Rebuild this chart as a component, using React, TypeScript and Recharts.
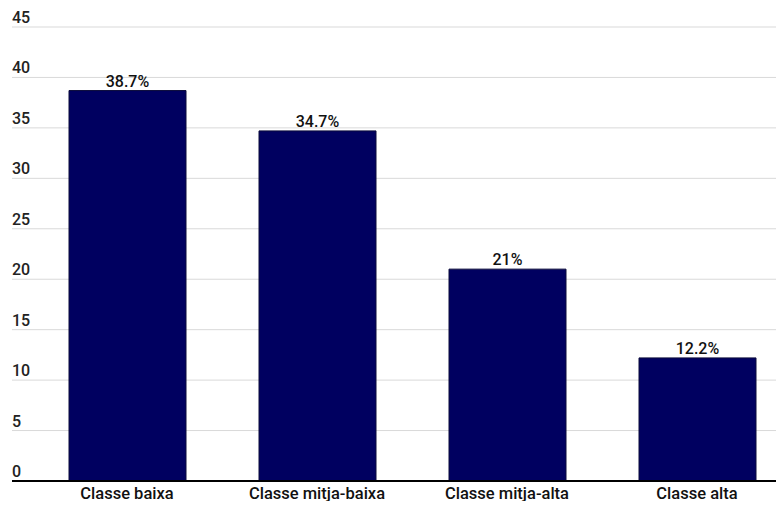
import React from "react";
import { BarChart, Bar, XAxis, YAxis, CartesianGrid, LabelList } from "recharts";

const categories = ["Classe baixa", "Classe mitja-baixa", "Classe mitja-alta", "Classe alta"];
const values = [38.7, 34.7, 21, 12.2];
const yTicks = [0, 5, 10, 15, 20, 25, 30, 35, 40, 45];

const data = categories.map((c, i) => ({ name: c, value: values[i] }));

const FONT = "Roboto, 'Noto Sans', sans-serif";

const YTick = (props: any) => {
  const { y, payload } = props;
  return (
    <text x={12} y={y - 4} fill="#222" fontSize={16} fontFamily={FONT} fontWeight={500} textAnchor="start">
      {payload.value}
    </text>
  );
};

const XTick = (props: any) => {
  const { x, y, payload } = props;
  return (
    <text x={x} y={y + 10} fill="#111" fontSize={16.5} fontFamily={FONT} fontWeight={500} textAnchor="middle">
      {payload.value}
    </text>
  );
};

export default function App() {
  return (
    <div style={{ margin: -8, width: 784, height: 509, overflow: "hidden", background: "#fff" }}>
      <BarChart
        width={800}
        height={509}
        data={data}
        margin={{ top: 27, right: 0, left: 11, bottom: 0 }}
        barSize={117}
      >
        <CartesianGrid vertical={false} stroke="#d9d9d9" strokeWidth={1} />
        <XAxis
          dataKey="name"
          height={28}
          padding={{ left: 20, right: 8 }}
          tickLine={false}
          axisLine={{ stroke: "#000", strokeWidth: 2 }}
          tick={<XTick />}
          interval={0}
        />
        <YAxis
          width={1}
          domain={[0, 45]}
          ticks={yTicks}
          tickLine={false}
          axisLine={false}
          tick={<YTick />}
          interval={0}
        />
        <Bar dataKey="value" fill="#000060" stroke="#0a0a3a" strokeWidth={1} isAnimationActive={false}>
          <LabelList
            dataKey="value"
            position="top"
            offset={4}
            formatter={(v: any) => `${v}%`}
            style={{ fontFamily: FONT, fontSize: 16, fontWeight: 500, fill: "#111" }}
          />
        </Bar>
      </BarChart>
    </div>
  );
}
